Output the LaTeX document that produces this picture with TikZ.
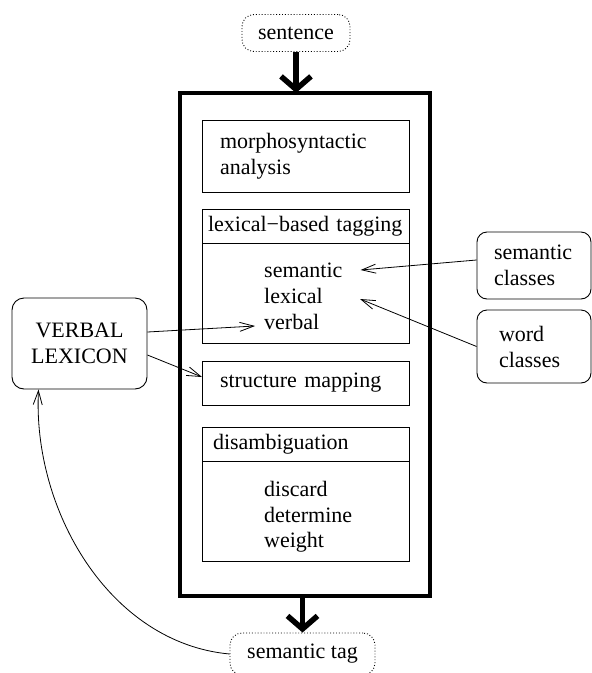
\documentclass[tikz,border=0pt]{standalone}
\usepackage{fontspec}
\setmainfont{Liberation Serif}
\usetikzlibrary{arrows.meta, positioning, calc}

\begin{document}
\begin{tikzpicture}[
        x=1pt, y=-1pt,
        font=\fontsize{22}{26}\selectfont,
        block/.style={
            draw,
            line width=0.9pt,
            outer sep=0pt,
            minimum width=207pt
        },
        leftblock/.style={
            block,
            align=left,
            text width=171pt,
            inner xsep=18pt
        },
        head/.style={
            block,
            align=left,
            text width=195pt,
            inner xsep=6pt,
            minimum height=34pt
        },
        body/.style={
            block,
            minimum height=100pt
        },
        item/.style={
            anchor=west,
            inner sep=0pt
        },
        source/.style={
            draw,
            rounded corners=10pt,
            line width=0.9pt,
            align=left
        },
        ioterm/.style={
            draw,
            dotted,
            line width=0.9pt,
            rounded corners=12pt
        },
        pipe/.style={
            draw,
            line width=4pt,
            minimum width=250pt,
            minimum height=503pt
        },
        arrow/.style={
            -{Straight Barb[length=14pt,width=9pt]},
            line width=0.8pt
        },
        bigarrow/.style={
            -{Straight Barb[length=13pt,width=30pt]},
            line width=5.5pt
        }
    ]

    \useasboundingbox (0,0) rectangle (592,673);

    \node[pipe] (main) at (305,344.5) {};

    \node[ioterm, minimum width=108pt, minimum height=37pt] (sentence) at (296,33) {sentence};
    \node[ioterm, minimum width=145pt, minimum height=42pt] (tag) at (302.5,654) {semantic tag};

    \node[leftblock, minimum height=72pt] (morph) at (305.5,156) {morphosyntactic\\analysis};

    \node[head] (lexhead) at (305.5,226.5) {lexical−based tagging};
    \node[body, below=0pt of lexhead] (lexbody) {};
    \node[item] (wsem) at (264,270) {semantic};
    \node[item] (wlex) at (264,296) {lexical};
    \node[item] (wverb) at (264,322) {verbal};

    \node[leftblock, minimum height=44pt] (strmap) at (305.5,383) {structure mapping};

    \node[head, text width=185pt, inner xsep=11pt] (dishead) at (305.5,444.5) {disambiguation};
    \node[body, below=0pt of dishead] (disbody) {};
    \node[item] (wdiscard) at (264,489) {discard};
    \node[item] (wdeterm) at (264,515) {determine};
    \node[item] (wweight) at (264,542) {weight};

    \node[source, text width=80pt, inner xsep=17pt, minimum height=67pt] (semcls) at (534,265.5) {semantic\\classes};
    \node[source, text width=70pt, inner xsep=22pt, minimum height=73pt] (wordcls) at (534,346.5) {word\\classes};
    \node[source, align=center, rounded corners=12pt, minimum width=135pt, minimum height=91pt] (verblex) at (79.5,343.5) {VERBAL\\LEXICON};

    % main flow
    \draw[bigarrow] (sentence.south) -- ([yshift=-2pt]sentence.south |- main.north);
    \draw[bigarrow] (tag.north |- main.south) -- (tag.north);

    % resources
    \draw[arrow] ([yshift=5.5pt]semcls.west) -- ([xshift=18pt]wsem.east);
    \draw[arrow] (wordcls.west) -- ([xshift=37pt,yshift=-3pt]wlex.east);
    \draw[arrow] ([yshift=11.5pt]verblex.east) -- ([xshift=-9pt,yshift=-4pt]wverb.west);
    \draw[arrow] ([yshift=-11.5pt]verblex.east) -- ([yshift=6pt]strmap.west);

    % feedback
    \draw[arrow] (tag.west) .. controls +(-120,-11) and +(-6,121) .. ([xshift=-41pt]verblex.south);

\end{tikzpicture}
\end{document}
